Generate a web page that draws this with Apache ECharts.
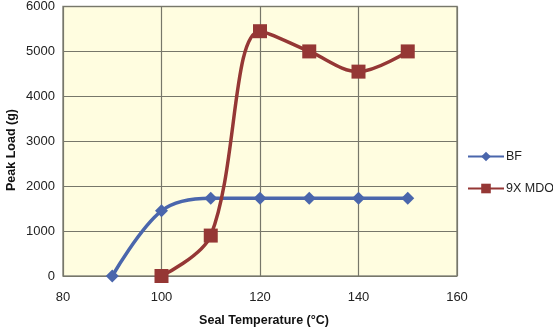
<!DOCTYPE html>
<html><head><meta charset="utf-8">
<script src="https://cdn.jsdelivr.net/npm/echarts@6/dist/echarts.min.js"></script>
<style>html,body{margin:0;padding:0;background:#fff}#c{width:553px;height:332px}</style>
</head><body><div id="c"></div>
<script>
const bfX = [90, 100, 110, 120, 130, 140, 150];
const bfY = [0, 1450, 1730, 1730, 1730, 1730, 1730];
const mdoX = [100, 110, 120, 130, 140, 150];
const mdoY = [0, 900, 5450, 5000, 4550, 5000];
const seriesNames = ['BF', '9X MDO'];
const xTitle = 'Seal Temperature (°C)';
const yTitle = 'Peak Load (g)';

const chart = echarts.init(document.getElementById('c'), null, {renderer: 'canvas'});
const font = 'Liberation Sans, Arial, sans-serif';
chart.setOption({
  animation: false,
  textStyle: {fontFamily: font},
  grid: {left: 63, top: 6, width: 394, height: 275, backgroundColor: '#FFFDE0', show: true, borderColor: '#8a8a80', borderWidth: 1.5},
  legend: {
    orient: 'vertical', left: 462, top: 145, itemGap: 19, itemWidth: 36, itemHeight: 12,
    textStyle: {fontSize: 12.5, color: '#222', fontFamily: font, padding: [0, 0, 0, -3]},
    data: seriesNames
  },
  graphic: [{
    type: 'text', x: 12, y: 150, rotation: Math.PI / 2,
    style: {text: yTitle, font: 'bold 12.5px ' + font, fill: '#111', align: 'center', verticalAlign: 'middle'}
  }],
  xAxis: {
    type: 'value', min: 80, max: 160, interval: 20,
    name: xTitle, nameLocation: 'middle', nameGap: 38,
    nameTextStyle: {fontWeight: 'bold', fontSize: 12.5, color: '#111', padding: [0, 0, 0, 8]},
    axisLine: {show: false}, axisTick: {show: false},
    axisLabel: {fontSize: 13, color: '#222', margin: 15, formatter: v => String(v)},
    splitLine: {lineStyle: {color: '#77776a', width: 1.2}}
  },
  yAxis: {
    type: 'value', min: 0, max: 6000, interval: 1000,
    axisLine: {show: false}, axisTick: {show: false},
    axisLabel: {fontSize: 13, color: '#222', margin: 8, formatter: v => String(v)},
    splitLine: {lineStyle: {color: '#77776a', width: 1.2}}
  },
  series: [
    {
      name: seriesNames[0], type: 'line', smooth: 0.35,
      data: bfX.map((x, i) => [x, bfY[i]]),
      symbol: 'diamond', symbolSize: 13,
      lineStyle: {width: 3.5, color: '#4A66AC'},
      itemStyle: {color: '#4A66AC'}
    },
    {
      name: seriesNames[1], type: 'line', smooth: 0.35,
      data: mdoX.map((x, i) => [x, mdoY[i]]),
      symbol: 'rect', symbolSize: 14,
      lineStyle: {width: 3.5, color: '#953735'},
      itemStyle: {color: '#953735'}
    }
  ]
});
</script></body></html>
